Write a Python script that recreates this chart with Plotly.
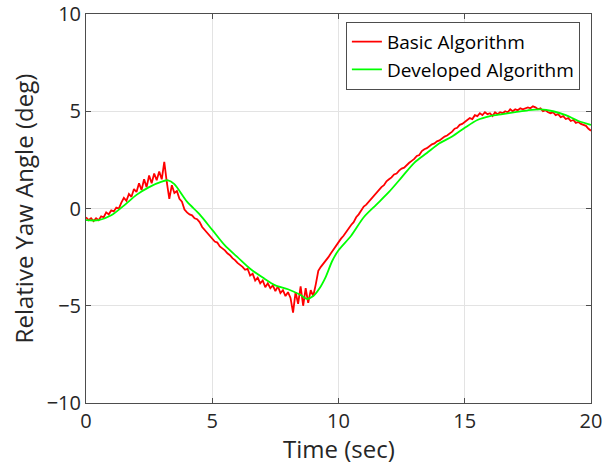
import numpy as np
import plotly.graph_objects as go

# Basic algorithm (red), sampled every 0.1 s
t_basic = [round(i * 0.1, 1) for i in range(201)]
y_basic = [
    -0.45, -0.6, -0.5, -0.65, -0.5, -0.6, -0.4, -0.45, -0.2, -0.3,
    -0.1, -0.15, 0.05, 0.0, 0.3, 0.55, 0.4, 0.75, 0.6, 1.0,
    0.85, 1.3, 0.95, 1.5, 1.1, 1.7, 1.3, 1.8, 1.45, 1.9,
    1.5, 2.4, 1.35, 0.5, 1.2, 0.8, 0.9, 0.5, 0.35, -0.05,
    -0.2, -0.3, -0.35, -0.5, -0.55, -0.7, -0.95, -1.1, -1.2, -1.4,
    -1.55, -1.7, -1.75, -1.95, -2.05, -2.15, -2.3, -2.4, -2.55, -2.65,
    -2.8, -2.9, -3.0, -3.15, -3.1, -3.45, -3.35, -3.7, -3.55, -3.85,
    -3.7, -4.05, -3.85, -4.1, -3.95, -4.25, -4.0, -4.35, -4.2, -4.5,
    -4.3, -4.6, -5.35, -4.3, -4.9, -4.0, -5.0, -4.1, -4.85, -4.2,
    -4.5, -3.9, -3.2, -3.0, -2.85, -2.7, -2.5, -2.3, -2.1, -1.95,
    -1.7, -1.55, -1.4, -1.2, -1.05, -0.85, -0.7, -0.45, -0.3, -0.1,
    0.1, 0.2, 0.35, 0.5, 0.65, 0.85, 0.95, 1.1, 1.2, 1.4,
    1.5, 1.6, 1.75, 1.8, 1.95, 2.05, 2.1, 2.25, 2.35, 2.45,
    2.55, 2.7, 2.75, 2.95, 3.05, 3.1, 3.2, 3.3, 3.35, 3.45,
    3.5, 3.6, 3.7, 3.75, 3.85, 3.95, 4.1, 4.15, 4.3, 4.35,
    4.45, 4.55, 4.65, 4.6, 4.8, 4.75, 4.9, 4.8, 4.95, 4.85,
    4.9, 4.75, 4.95, 4.85, 4.95, 4.9, 5.0, 4.95, 5.1, 5.0,
    5.1, 5.05, 5.15, 5.1, 5.15, 5.2, 5.15, 5.25, 5.2, 5.1,
    5.15, 5.0, 5.05, 4.95, 4.9, 4.95, 4.8, 4.85, 4.7, 4.75,
    4.6, 4.65, 4.5, 4.55, 4.4, 4.45, 4.35, 4.3, 4.25, 4.1,
    4.0,
]

# Developed algorithm (green)
t_dev = [0, 0.5, 1.0, 1.5, 2.0, 2.5, 3.0, 3.25, 3.5, 4.0, 4.5, 5.0, 5.5, 6.0,
         6.5, 7.0, 7.5, 8.0, 8.5, 8.75, 9.0, 9.25, 9.5, 9.75, 10.0, 10.5,
         11.0, 11.5, 12.0, 12.5, 13.0, 13.5, 14.0, 14.5, 15.0, 15.5, 16.0,
         16.5, 17.0, 17.5, 18.0, 18.5, 19.0, 19.5, 20.0]
y_dev = [-0.6, -0.6, -0.35, 0.15, 0.7, 1.1, 1.38, 1.45, 1.25, 0.35, -0.3,
         -1.1, -1.9, -2.5, -3.1, -3.55, -3.95, -4.15, -4.45, -4.65, -4.5,
         -4.1, -3.5, -2.7, -2.15, -1.4, -0.45, 0.2, 0.85, 1.6, 2.35, 2.85,
         3.35, 3.7, 4.15, 4.55, 4.75, 4.85, 4.95, 5.05, 5.1, 5.0, 4.8, 4.5,
         4.3]

x_ticks = [0, 5, 10, 15, 20]
y_ticks = [-10, -5, 0, 5, 10]
y_tick_text = ["\u221210", "\u22125", "0", "5", "10"]

x_title = "Time (sec)"
y_title = "Relative Yaw Angle (deg)"

FONT = "Open Sans, DejaVu Sans, sans-serif"

fig = go.Figure()
fig.add_trace(go.Scatter(x=t_basic, y=y_basic, mode="lines", name="Basic Algorithm",
                         line=dict(color="#ff0000", width=1.8)))
fig.add_trace(go.Scatter(x=t_dev, y=y_dev, mode="lines", name="Developed Algorithm",
                         line=dict(color="#00ff00", width=1.8, shape="spline", smoothing=0.8)))

axis_common = dict(
    showgrid=True, gridcolor="#e3e3e3", gridwidth=1,
    showline=True, linecolor="#4d4d4d", linewidth=1, mirror="ticks",
    ticks="inside", ticklen=5, tickcolor="#4d4d4d",
    tickfont=dict(family=FONT, size=20, color="#262626"),
    ticklabeloverflow="allow",
    automargin=False,
    zeroline=False,
)

fig.update_layout(
    width=616, height=468,
    margin=dict(l=86, r=25, t=14, b=65),
    paper_bgcolor="white", plot_bgcolor="white",
    xaxis=dict(range=[0, 20], tickvals=x_ticks, **axis_common),
    yaxis=dict(range=[-10, 10], tickvals=y_ticks, ticktext=y_tick_text, **axis_common),
    legend=dict(x=0.978, y=0.98, xanchor="right", yanchor="top",
                bgcolor="white", bordercolor="#4d4d4d", borderwidth=1,
                font=dict(family=FONT, size=19, color="#000000"),
                tracegroupgap=0, itemwidth=30),
    showlegend=True,
    annotations=[
        dict(text=x_title, xref="paper", yref="paper", x=0.5, y=-0.118,
             xanchor="center", yanchor="middle", showarrow=False,
             font=dict(family=FONT, size=24, color="#262626")),
        dict(text=y_title, xref="paper", yref="paper", x=-0.123, y=0.5,
             xanchor="center", yanchor="middle", textangle=-90, showarrow=False,
             font=dict(family=FONT, size=24, color="#262626")),
    ],
)

fig.write_html("out.html")
